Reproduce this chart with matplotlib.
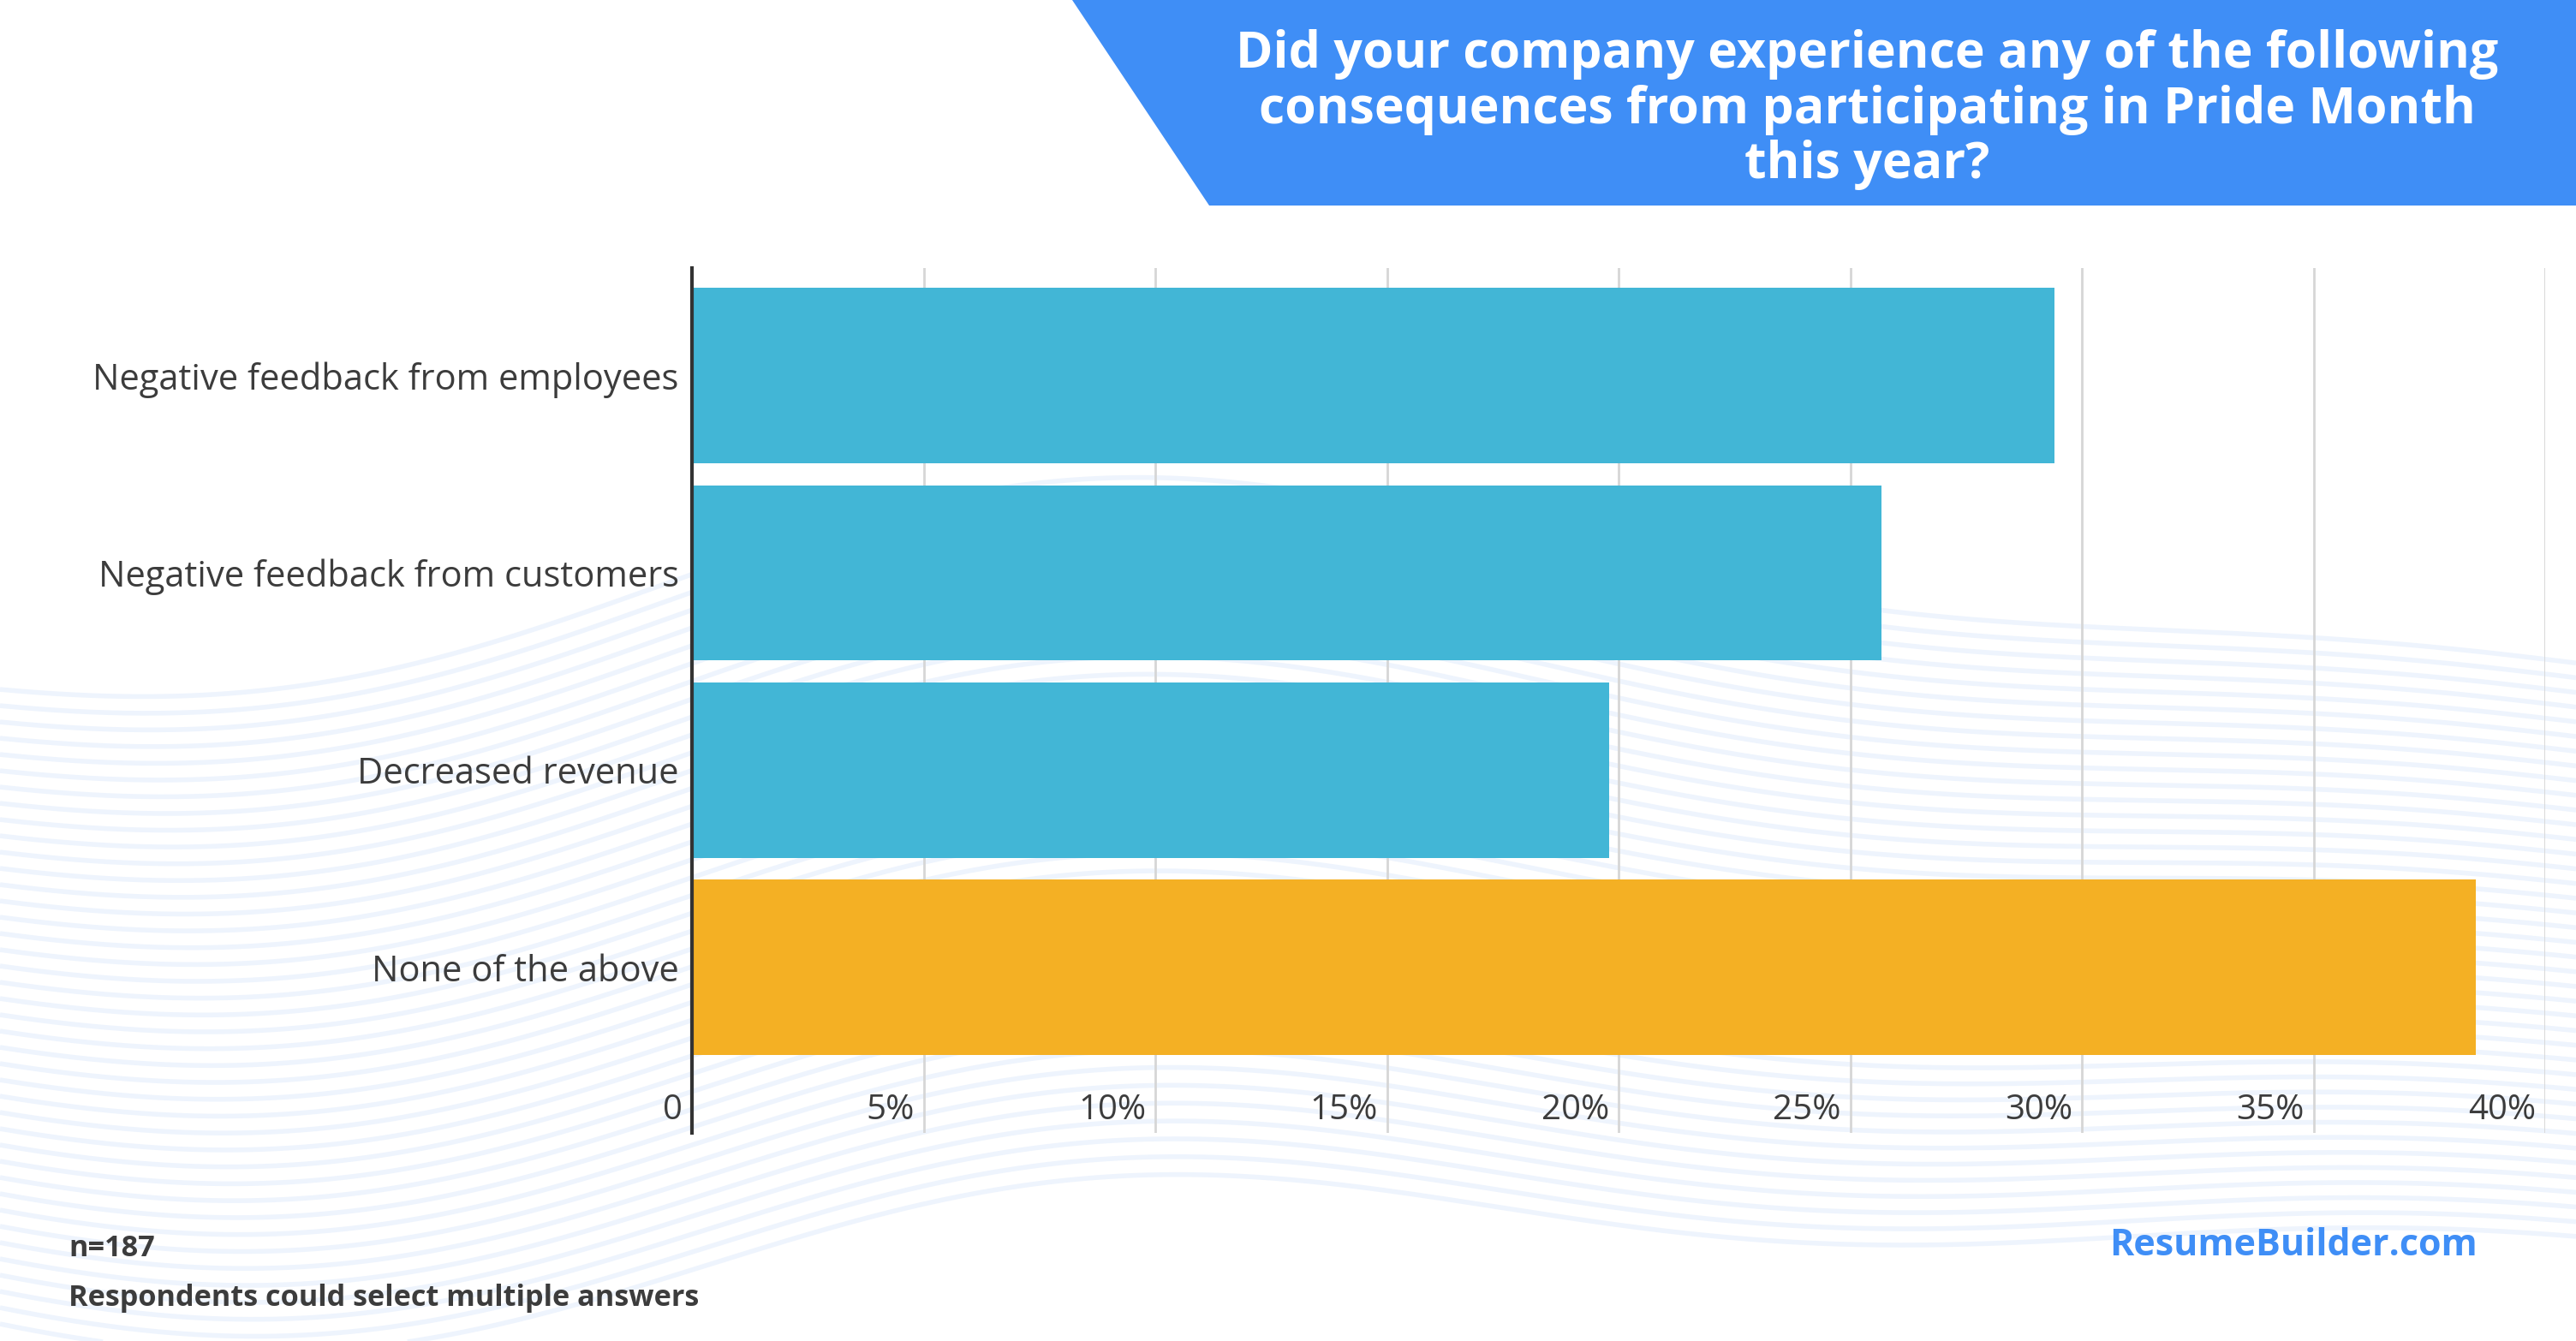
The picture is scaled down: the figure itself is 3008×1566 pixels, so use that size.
import numpy as np
import matplotlib.pyplot as plt
from matplotlib.patches import Polygon

# Survey data (n=187)
categories = ["Negative feedback from employees",
              "Negative feedback from customers",
              "Decreased revenue",
              "None of the above"]
values = [29.41, 25.67, 19.79, 38.50]
bar_colors = ["#42b6d6", "#42b6d6", "#42b6d6", "#f4b024"]
tick_values = [0, 5, 10, 15, 20, 25, 30, 35, 40]
tick_labels = ["0", "5%", "10%", "15%", "20%", "25%", "30%", "35%", "40%"]

title = "Did your company experience any of the following\nconsequences from participating in Pride Month\nthis year?"
note_n = "n=187"
note_multi = "Respondents could select multiple answers"
brand = "ResumeBuilder.com"

W, H = 3008, 1566
plt.rcParams['font.family'] = ['Open Sans', 'DejaVu Sans']
text_color = "#3c3c3c"
blue = "#3f8ef6"

fig = plt.figure(figsize=(W / 100, H / 100), dpi=100)
fig.patch.set_facecolor("white")

# Background layer in pixel coordinates (decorative waves + title banner)
bg = fig.add_axes([0, 0, 1, 1], zorder=0)
bg.set_xlim(0, W)
bg.set_ylim(H, 0)
bg.axis("off")

xs = np.linspace(0, W, 600)
base = 860 + 110 * np.cos(xs / 520.0 + 0.3) + 40 * np.sin(xs / 260.0)
for k in range(40):
    bg.plot(xs, base - 160 + k * 19 + k * 2.0 * np.sin(xs / 700.0), color="#eef4fd",
            lw=4, solid_capstyle="butt", zorder=0)

banner = Polygon([(1252, 0), (1412, 240), (W, 240), (W, 0)], closed=True,
                 facecolor=blue, edgecolor="none", zorder=2)
bg.add_patch(banner)
bg.text(2180, 128, title, ha="center", va="center", color="white",
        fontsize=42.5, fontweight="bold", linespacing=1.13, zorder=3)

# Main chart
left, right = 808, 2972
top, bottom = 313, 1323
ax = fig.add_axes([left / W, 1 - bottom / H, (right - left) / W, (bottom - top) / H], zorder=1)
ax.patch.set_alpha(0)

y = np.arange(len(categories))
ax.barh(y, values, height=0.89, color=bar_colors, zorder=2)
ax.set_xlim(0, 40)
ax.set_ylim(3.84, -0.546)

for t in tick_values[1:]:
    ax.axvline(t, color="#d6d6d6", lw=2, zorder=1)
for s in ["top", "right", "bottom"]:
    ax.spines[s].set_visible(False)
ax.spines["left"].set_color("#333333")
ax.spines["left"].set_linewidth(3)
ax.spines["left"].set_zorder(3)

ax.set_xticks([])
ax.set_yticks(y)
ax.set_yticklabels(categories, fontsize=30, color=text_color)
ax.tick_params(axis="y", length=0, pad=11)

xt = ax.get_xaxis_transform()
for t, lab in zip(tick_values, tick_labels):
    ax.text(t - 0.2, 0.026, lab, transform=xt, ha="right", va="center",
            fontsize=29, color=text_color)

# Footer notes
fig.text(80 / W, 1 - 1458 / H, note_n, fontsize=24.7, fontweight="bold",
         color=text_color, va="center")
fig.text(80 / W, 1 - 1516 / H, note_multi, fontsize=24.7, fontweight="bold",
         color=text_color, va="center")
fig.text(2893 / W, 1 - 1455 / H, brand, fontsize=31, fontweight="bold",
         color=blue, va="center", ha="right")

plt.savefig("out.png", dpi=100)
